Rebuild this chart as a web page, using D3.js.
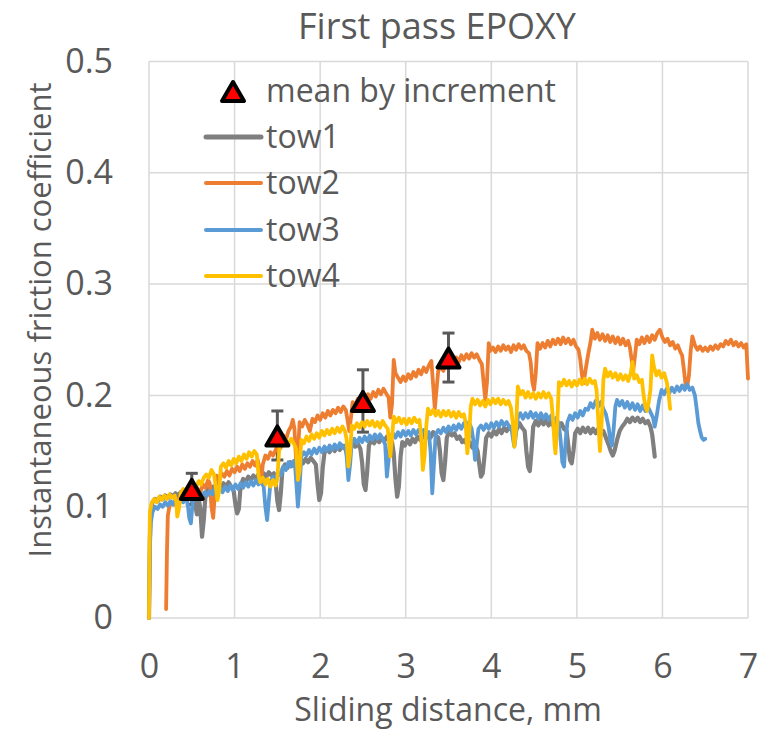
<!DOCTYPE html>
<html>
<head>
<meta charset="utf-8">
<script src="https://cdn.jsdelivr.net/npm/d3@7"></script>
<style>
  html, body { margin: 0; padding: 0; background: #fff; }
  svg { display: block; font-family: "Open Sans", sans-serif; }
</style>
</head>
<body>
<svg id="chart" width="763" height="731"></svg>
<script>
// ---- data ----
const title = "First pass EPOXY";
const xLabel = "Sliding distance, mm";
const yLabel = "Instantaneous friction coefficient";
const xTicks = [0, 1, 2, 3, 4, 5, 6, 7];
const yTicks = [0, 0.1, 0.2, 0.3, 0.4, 0.5];
const seriesNames = ["tow1", "tow2", "tow3", "tow4"];
const seriesColors = ["#7F7F7F", "#ED7D31", "#5B9BD5", "#FFC000"];

// mean friction coefficient per 1 mm increment, with spread
const meanX = [0.5, 1.5, 2.5, 3.5];
const meanY = [0.116, 0.164, 0.195, 0.234];
const meanErr = [0.014, 0.022, 0.028, 0.022];

// sliding distance (mm), friction coefficient
const tow1 = [[0.00,0.000],[0.01,0.07],[0.02,0.095],[0.04,0.104],[0.07,0.107],[0.10,0.105],[0.13,0.109],[0.16,0.107],[0.19,0.110],[0.22,0.108],[0.25,0.111],[0.28,0.109],[0.31,0.112],[0.34,0.110],[0.37,0.113],[0.40,0.111],[0.43,0.114],[0.46,0.112],[0.49,0.110],[0.52,0.113],[0.54,0.102],[0.56,0.093],[0.58,0.108],[0.60,0.098],[0.62,0.073],[0.64,0.088],[0.66,0.110],[0.69,0.116],[0.72,0.113],[0.75,0.118],[0.78,0.115],[0.81,0.120],[0.84,0.117],[0.87,0.121],[0.90,0.118],[0.93,0.122],[0.96,0.118],[0.99,0.114],[1.01,0.102],[1.03,0.094],[1.05,0.098],[1.07,0.118],[1.10,0.125],[1.13,0.122],[1.16,0.127],[1.19,0.124],[1.22,0.128],[1.25,0.125],[1.28,0.129],[1.31,0.126],[1.34,0.130],[1.37,0.127],[1.40,0.131],[1.43,0.128],[1.46,0.130],[1.48,0.122],[1.50,0.105],[1.52,0.097],[1.54,0.112],[1.56,0.134],[1.59,0.138],[1.62,0.135],[1.65,0.140],[1.68,0.137],[1.71,0.141],[1.74,0.138],[1.77,0.142],[1.80,0.139],[1.83,0.143],[1.86,0.140],[1.89,0.144],[1.92,0.141],[1.95,0.138],[1.97,0.120],[1.99,0.106],[2.01,0.112],[2.03,0.135],[2.05,0.148],[2.08,0.152],[2.11,0.149],[2.14,0.153],[2.17,0.150],[2.20,0.154],[2.23,0.151],[2.26,0.155],[2.29,0.152],[2.32,0.156],[2.35,0.153],[2.38,0.157],[2.41,0.154],[2.44,0.157],[2.47,0.152],[2.49,0.140],[2.51,0.120],[2.53,0.115],[2.55,0.132],[2.57,0.155],[2.60,0.160],[2.63,0.157],[2.66,0.161],[2.69,0.158],[2.72,0.162],[2.75,0.159],[2.78,0.163],[2.81,0.160],[2.84,0.158],[2.86,0.148],[2.88,0.125],[2.90,0.109],[2.92,0.118],[2.94,0.145],[2.96,0.158],[2.99,0.155],[3.02,0.160],[3.05,0.156],[3.08,0.161],[3.11,0.158],[3.14,0.163],[3.17,0.160],[3.20,0.165],[3.23,0.161],[3.26,0.166],[3.29,0.162],[3.32,0.167],[3.35,0.164],[3.38,0.162],[3.40,0.150],[3.42,0.130],[3.44,0.124],[3.46,0.140],[3.48,0.162],[3.51,0.168],[3.54,0.164],[3.57,0.166],[3.60,0.161],[3.63,0.163],[3.66,0.158],[3.69,0.160],[3.72,0.155],[3.75,0.158],[3.78,0.153],[3.81,0.156],[3.84,0.150],[3.86,0.138],[3.88,0.127],[3.90,0.130],[3.92,0.145],[3.94,0.162],[3.97,0.166],[4.00,0.163],[4.03,0.168],[4.06,0.165],[4.09,0.170],[4.12,0.166],[4.15,0.171],[4.18,0.168],[4.21,0.172],[4.24,0.169],[4.27,0.174],[4.30,0.170],[4.33,0.175],[4.36,0.171],[4.39,0.168],[4.41,0.150],[4.43,0.136],[4.45,0.132],[4.47,0.150],[4.49,0.172],[4.52,0.177],[4.55,0.173],[4.58,0.178],[4.61,0.174],[4.64,0.178],[4.67,0.173],[4.70,0.177],[4.73,0.172],[4.76,0.176],[4.79,0.171],[4.82,0.175],[4.85,0.170],[4.88,0.168],[4.90,0.155],[4.92,0.142],[4.94,0.139],[4.96,0.150],[4.98,0.166],[5.01,0.170],[5.04,0.166],[5.07,0.171],[5.10,0.167],[5.13,0.171],[5.16,0.166],[5.19,0.170],[5.22,0.166],[5.25,0.170],[5.28,0.165],[5.31,0.168],[5.34,0.162],[5.37,0.156],[5.40,0.149],[5.42,0.146],[5.44,0.150],[5.47,0.160],[5.50,0.168],[5.53,0.172],[5.56,0.175],[5.59,0.179],[5.62,0.176],[5.65,0.180],[5.68,0.177],[5.71,0.180],[5.74,0.176],[5.77,0.179],[5.80,0.175],[5.83,0.177],[5.86,0.172],[5.88,0.165],[5.90,0.152],[5.91,0.145]];

const tow2 = [[0.20,0.008],[0.21,0.06],[0.22,0.092],[0.24,0.101],[0.27,0.104],[0.30,0.102],[0.33,0.107],[0.36,0.104],[0.39,0.108],[0.42,0.106],[0.45,0.110],[0.48,0.108],[0.51,0.113],[0.54,0.110],[0.57,0.116],[0.60,0.113],[0.63,0.120],[0.66,0.117],[0.69,0.124],[0.71,0.121],[0.73,0.100],[0.75,0.090],[0.77,0.112],[0.79,0.128],[0.82,0.124],[0.85,0.130],[0.88,0.127],[0.91,0.132],[0.94,0.128],[0.97,0.134],[1.00,0.131],[1.03,0.136],[1.06,0.132],[1.09,0.138],[1.12,0.134],[1.15,0.139],[1.18,0.136],[1.21,0.141],[1.24,0.137],[1.27,0.142],[1.29,0.135],[1.31,0.122],[1.33,0.138],[1.36,0.146],[1.39,0.143],[1.42,0.149],[1.45,0.146],[1.48,0.151],[1.51,0.156],[1.54,0.153],[1.57,0.164],[1.60,0.160],[1.63,0.168],[1.66,0.172],[1.68,0.178],[1.70,0.170],[1.72,0.140],[1.74,0.146],[1.76,0.176],[1.79,0.172],[1.82,0.178],[1.85,0.174],[1.88,0.168],[1.91,0.179],[1.94,0.176],[1.97,0.182],[2.00,0.178],[2.03,0.184],[2.06,0.180],[2.09,0.186],[2.12,0.182],[2.15,0.187],[2.18,0.184],[2.21,0.189],[2.24,0.185],[2.27,0.190],[2.30,0.187],[2.32,0.178],[2.34,0.168],[2.36,0.180],[2.38,0.194],[2.41,0.191],[2.44,0.197],[2.47,0.193],[2.50,0.199],[2.53,0.196],[2.56,0.201],[2.59,0.197],[2.62,0.203],[2.65,0.199],[2.68,0.205],[2.71,0.201],[2.74,0.206],[2.77,0.202],[2.80,0.198],[2.82,0.180],[2.84,0.192],[2.86,0.232],[2.88,0.220],[2.91,0.216],[2.94,0.212],[2.97,0.217],[3.00,0.213],[3.03,0.219],[3.06,0.215],[3.09,0.221],[3.12,0.217],[3.15,0.223],[3.18,0.219],[3.21,0.225],[3.24,0.221],[3.27,0.227],[3.30,0.231],[3.32,0.210],[3.34,0.188],[3.36,0.205],[3.38,0.222],[3.41,0.226],[3.44,0.222],[3.47,0.228],[3.50,0.225],[3.53,0.231],[3.56,0.228],[3.59,0.234],[3.62,0.230],[3.65,0.236],[3.68,0.232],[3.71,0.237],[3.74,0.233],[3.77,0.238],[3.80,0.234],[3.83,0.237],[3.86,0.232],[3.89,0.228],[3.91,0.212],[3.93,0.196],[3.95,0.212],[3.97,0.247],[3.99,0.240],[4.02,0.243],[4.05,0.239],[4.08,0.244],[4.11,0.240],[4.14,0.245],[4.17,0.241],[4.20,0.244],[4.23,0.239],[4.26,0.245],[4.29,0.241],[4.32,0.246],[4.35,0.242],[4.38,0.245],[4.41,0.240],[4.44,0.238],[4.46,0.230],[4.48,0.212],[4.50,0.205],[4.52,0.220],[4.54,0.247],[4.57,0.242],[4.60,0.247],[4.63,0.243],[4.66,0.249],[4.69,0.244],[4.72,0.250],[4.75,0.246],[4.78,0.251],[4.81,0.246],[4.84,0.252],[4.87,0.247],[4.90,0.251],[4.93,0.246],[4.96,0.250],[4.99,0.244],[5.02,0.241],[5.04,0.232],[5.06,0.218],[5.08,0.211],[5.10,0.222],[5.13,0.236],[5.16,0.248],[5.18,0.259],[5.21,0.251],[5.24,0.256],[5.27,0.250],[5.30,0.255],[5.33,0.249],[5.36,0.254],[5.39,0.248],[5.42,0.253],[5.45,0.247],[5.48,0.252],[5.51,0.246],[5.54,0.251],[5.57,0.245],[5.60,0.249],[5.62,0.243],[5.64,0.232],[5.66,0.223],[5.68,0.236],[5.70,0.250],[5.73,0.246],[5.76,0.252],[5.79,0.247],[5.82,0.253],[5.85,0.248],[5.88,0.254],[5.91,0.250],[5.94,0.256],[5.97,0.259],[6.00,0.252],[6.03,0.248],[6.06,0.251],[6.09,0.245],[6.12,0.248],[6.15,0.242],[6.18,0.245],[6.21,0.239],[6.23,0.236],[6.25,0.224],[6.27,0.210],[6.29,0.208],[6.31,0.218],[6.33,0.240],[6.35,0.253],[6.38,0.245],[6.41,0.241],[6.44,0.244],[6.47,0.240],[6.50,0.243],[6.53,0.240],[6.56,0.244],[6.59,0.241],[6.62,0.245],[6.65,0.242],[6.68,0.246],[6.71,0.244],[6.74,0.249],[6.77,0.246],[6.80,0.250],[6.83,0.245],[6.86,0.248],[6.89,0.244],[6.92,0.247],[6.95,0.243],[6.98,0.246],[7.00,0.215]];

const tow3 = [[0.00,0.000],[0.01,0.06],[0.02,0.085],[0.04,0.095],[0.07,0.100],[0.10,0.098],[0.13,0.102],[0.16,0.100],[0.19,0.104],[0.22,0.101],[0.25,0.105],[0.28,0.102],[0.31,0.106],[0.34,0.103],[0.37,0.107],[0.40,0.104],[0.43,0.108],[0.45,0.104],[0.47,0.090],[0.49,0.085],[0.51,0.104],[0.53,0.111],[0.56,0.108],[0.59,0.112],[0.62,0.109],[0.65,0.113],[0.68,0.110],[0.71,0.114],[0.74,0.111],[0.77,0.116],[0.80,0.112],[0.83,0.117],[0.86,0.113],[0.89,0.118],[0.92,0.114],[0.95,0.119],[0.98,0.115],[1.01,0.120],[1.04,0.116],[1.07,0.121],[1.10,0.117],[1.13,0.122],[1.16,0.118],[1.19,0.123],[1.22,0.119],[1.25,0.124],[1.28,0.120],[1.31,0.123],[1.34,0.118],[1.36,0.100],[1.38,0.088],[1.40,0.105],[1.42,0.122],[1.45,0.127],[1.48,0.124],[1.51,0.131],[1.54,0.128],[1.57,0.136],[1.60,0.133],[1.63,0.140],[1.66,0.136],[1.69,0.141],[1.71,0.134],[1.73,0.112],[1.74,0.100],[1.76,0.118],[1.78,0.145],[1.81,0.149],[1.84,0.146],[1.87,0.151],[1.90,0.147],[1.93,0.152],[1.96,0.148],[1.99,0.153],[2.02,0.149],[2.05,0.154],[2.08,0.150],[2.11,0.155],[2.14,0.151],[2.17,0.156],[2.20,0.152],[2.23,0.157],[2.26,0.153],[2.29,0.155],[2.31,0.145],[2.33,0.124],[2.35,0.138],[2.37,0.158],[2.40,0.161],[2.43,0.157],[2.46,0.162],[2.49,0.158],[2.52,0.163],[2.55,0.159],[2.58,0.164],[2.61,0.160],[2.64,0.165],[2.67,0.161],[2.70,0.165],[2.73,0.161],[2.76,0.156],[2.78,0.127],[2.80,0.142],[2.82,0.163],[2.85,0.166],[2.88,0.162],[2.91,0.167],[2.94,0.163],[2.97,0.168],[3.00,0.164],[3.03,0.168],[3.06,0.164],[3.09,0.169],[3.12,0.165],[3.15,0.169],[3.18,0.165],[3.21,0.169],[3.24,0.165],[3.27,0.167],[3.29,0.150],[3.31,0.112],[3.33,0.138],[3.35,0.165],[3.38,0.169],[3.41,0.166],[3.44,0.171],[3.47,0.167],[3.50,0.172],[3.53,0.168],[3.56,0.173],[3.59,0.169],[3.62,0.174],[3.65,0.170],[3.68,0.175],[3.71,0.171],[3.74,0.176],[3.77,0.170],[3.79,0.160],[3.81,0.142],[3.83,0.156],[3.85,0.170],[3.88,0.173],[3.91,0.169],[3.94,0.174],[3.97,0.170],[4.00,0.175],[4.03,0.171],[4.06,0.176],[4.09,0.172],[4.12,0.177],[4.15,0.173],[4.18,0.176],[4.21,0.172],[4.24,0.168],[4.26,0.158],[4.27,0.154],[4.29,0.166],[4.31,0.180],[4.34,0.184],[4.37,0.179],[4.40,0.184],[4.43,0.180],[4.46,0.185],[4.49,0.180],[4.52,0.184],[4.55,0.179],[4.58,0.184],[4.61,0.179],[4.64,0.183],[4.67,0.178],[4.70,0.182],[4.73,0.177],[4.76,0.180],[4.79,0.174],[4.81,0.160],[4.83,0.140],[4.85,0.136],[4.87,0.160],[4.89,0.176],[4.92,0.182],[4.95,0.178],[4.98,0.184],[5.01,0.180],[5.04,0.186],[5.07,0.182],[5.10,0.188],[5.13,0.187],[5.16,0.193],[5.19,0.189],[5.22,0.195],[5.25,0.190],[5.28,0.194],[5.31,0.188],[5.34,0.183],[5.37,0.172],[5.39,0.160],[5.41,0.155],[5.43,0.170],[5.45,0.190],[5.47,0.196],[5.50,0.191],[5.53,0.195],[5.56,0.189],[5.59,0.194],[5.62,0.188],[5.65,0.193],[5.68,0.187],[5.71,0.192],[5.74,0.186],[5.77,0.191],[5.80,0.186],[5.83,0.190],[5.86,0.185],[5.89,0.180],[5.91,0.172],[5.93,0.180],[5.96,0.195],[5.99,0.205],[6.02,0.201],[6.05,0.206],[6.08,0.202],[6.11,0.207],[6.14,0.203],[6.17,0.208],[6.20,0.204],[6.23,0.209],[6.26,0.205],[6.29,0.210],[6.32,0.205],[6.35,0.207],[6.38,0.200],[6.40,0.188],[6.42,0.175],[6.44,0.168],[6.46,0.162],[6.48,0.160],[6.50,0.161]];

const tow4 = [[0.000,0.000],[0.005,0.05],[0.010,0.095],[0.03,0.103],[0.06,0.107],[0.09,0.104],[0.12,0.109],[0.15,0.106],[0.18,0.110],[0.21,0.107],[0.24,0.111],[0.27,0.108],[0.30,0.110],[0.32,0.104],[0.33,0.091],[0.35,0.098],[0.37,0.112],[0.40,0.116],[0.43,0.113],[0.46,0.118],[0.49,0.115],[0.52,0.120],[0.55,0.117],[0.58,0.123],[0.61,0.120],[0.64,0.126],[0.67,0.129],[0.70,0.126],[0.73,0.133],[0.76,0.129],[0.78,0.118],[0.80,0.106],[0.82,0.114],[0.84,0.136],[0.87,0.139],[0.90,0.135],[0.93,0.141],[0.96,0.137],[0.99,0.143],[1.02,0.139],[1.05,0.145],[1.08,0.141],[1.11,0.147],[1.14,0.143],[1.17,0.149],[1.20,0.145],[1.23,0.150],[1.26,0.147],[1.28,0.128],[1.30,0.122],[1.33,0.126],[1.36,0.120],[1.39,0.125],[1.42,0.118],[1.45,0.124],[1.48,0.119],[1.50,0.125],[1.52,0.150],[1.54,0.162],[1.57,0.155],[1.60,0.160],[1.63,0.156],[1.66,0.161],[1.69,0.157],[1.72,0.152],[1.74,0.124],[1.76,0.132],[1.78,0.160],[1.81,0.157],[1.84,0.163],[1.87,0.159],[1.90,0.165],[1.93,0.161],[1.96,0.166],[1.99,0.162],[2.02,0.168],[2.05,0.164],[2.08,0.169],[2.11,0.165],[2.14,0.170],[2.17,0.166],[2.20,0.171],[2.23,0.167],[2.26,0.172],[2.29,0.168],[2.31,0.160],[2.33,0.136],[2.35,0.148],[2.37,0.173],[2.40,0.170],[2.43,0.175],[2.46,0.171],[2.49,0.176],[2.52,0.172],[2.55,0.177],[2.58,0.173],[2.61,0.177],[2.64,0.172],[2.67,0.176],[2.70,0.171],[2.73,0.177],[2.76,0.173],[2.79,0.170],[2.81,0.155],[2.82,0.145],[2.84,0.162],[2.86,0.181],[2.89,0.176],[2.92,0.180],[2.95,0.175],[2.98,0.179],[3.01,0.174],[3.04,0.179],[3.07,0.175],[3.10,0.180],[3.13,0.176],[3.16,0.178],[3.18,0.165],[3.20,0.133],[3.22,0.145],[3.24,0.172],[3.26,0.188],[3.29,0.183],[3.32,0.187],[3.35,0.182],[3.38,0.186],[3.41,0.181],[3.44,0.186],[3.47,0.182],[3.50,0.186],[3.53,0.181],[3.56,0.185],[3.59,0.180],[3.62,0.185],[3.65,0.181],[3.68,0.183],[3.70,0.176],[3.72,0.148],[3.74,0.162],[3.76,0.190],[3.78,0.197],[3.81,0.192],[3.84,0.196],[3.87,0.191],[3.90,0.195],[3.93,0.190],[3.96,0.196],[3.99,0.192],[4.02,0.197],[4.05,0.193],[4.08,0.197],[4.11,0.192],[4.14,0.196],[4.17,0.192],[4.20,0.195],[4.23,0.189],[4.25,0.176],[4.27,0.154],[4.29,0.172],[4.31,0.208],[4.34,0.201],[4.37,0.204],[4.40,0.198],[4.43,0.203],[4.46,0.198],[4.49,0.202],[4.52,0.197],[4.55,0.202],[4.58,0.198],[4.61,0.203],[4.64,0.198],[4.67,0.202],[4.70,0.197],[4.72,0.180],[4.74,0.156],[4.75,0.148],[4.77,0.172],[4.79,0.212],[4.82,0.209],[4.85,0.214],[4.88,0.209],[4.91,0.213],[4.94,0.208],[4.97,0.213],[5.00,0.209],[5.03,0.214],[5.06,0.210],[5.09,0.215],[5.12,0.210],[5.15,0.215],[5.18,0.211],[5.21,0.213],[5.23,0.205],[5.25,0.178],[5.27,0.150],[5.29,0.176],[5.31,0.214],[5.33,0.224],[5.36,0.217],[5.39,0.221],[5.42,0.216],[5.45,0.220],[5.48,0.214],[5.51,0.219],[5.54,0.214],[5.57,0.218],[5.60,0.213],[5.63,0.220],[5.65,0.230],[5.67,0.215],[5.70,0.218],[5.73,0.212],[5.76,0.214],[5.78,0.200],[5.80,0.190],[5.82,0.186],[5.84,0.194],[5.86,0.205],[5.88,0.236],[5.90,0.226],[5.93,0.218],[5.96,0.222],[5.99,0.216],[6.02,0.220],[6.05,0.212],[6.07,0.203],[6.09,0.188]];

const towData = [tow1, tow2, tow3, tow4];

// ---- layout ----
const svg = d3.select("#chart");
const plot = { left: 149, right: 748, top: 61.5, bottom: 618 };
const x = d3.scaleLinear().domain([0, 7]).range([plot.left, plot.right]);
const y = d3.scaleLinear().domain([0, 0.5]).range([plot.bottom, plot.top]);
const textColor = "#595959";
const gridColor = "#D9D9D9";

// gridlines
svg.append("g").selectAll("line").data(yTicks).join("line")
  .attr("x1", plot.left).attr("x2", plot.right)
  .attr("y1", d => y(d)).attr("y2", d => y(d))
  .attr("stroke", gridColor).attr("stroke-width", 1.5);
svg.append("g").selectAll("line").data(xTicks).join("line")
  .attr("y1", plot.top).attr("y2", plot.bottom)
  .attr("x1", d => x(d)).attr("x2", d => x(d))
  .attr("stroke", gridColor).attr("stroke-width", 1.5);

// axes (labels only)
const yAxis = svg.append("g")
  .attr("transform", `translate(${plot.left},0)`)
  .call(d3.axisLeft(y).tickValues(yTicks).tickSize(0).tickPadding(36).tickFormat(d3.format("")));
const xAxis = svg.append("g")
  .attr("transform", `translate(0,${plot.bottom})`)
  .call(d3.axisBottom(x).tickValues(xTicks).tickSize(0).tickPadding(36).tickFormat(d3.format("")));
[yAxis, xAxis].forEach(g => {
  g.select(".domain").remove();
  g.selectAll("text").attr("fill", textColor).attr("font-size", 34)
    .attr("font-family", "'Open Sans', sans-serif");
});

// title and axis titles
svg.append("text").attr("x", 437).attr("y", 38.5).attr("text-anchor", "middle")
  .attr("fill", textColor).attr("font-size", 36).text(title);
svg.append("text").attr("x", 448).attr("y", 721).attr("text-anchor", "middle")
  .attr("fill", textColor).attr("font-size", 32).text(xLabel);
svg.append("text").attr("transform", "translate(51,320) rotate(-90)").attr("text-anchor", "middle")
  .attr("fill", textColor).attr("font-size", 31).text(yLabel);

// error bars for the increment means
const errG = svg.append("g").attr("stroke", "#595959").attr("stroke-width", 3);
meanX.forEach((mx, i) => {
  const cx = x(mx), lo = y(meanY[i] - meanErr[i]), hi = y(meanY[i] + meanErr[i]);
  errG.append("line").attr("x1", cx).attr("x2", cx).attr("y1", lo).attr("y2", hi);
  errG.append("line").attr("x1", cx - 6).attr("x2", cx + 6).attr("y1", lo).attr("y2", lo);
  errG.append("line").attr("x1", cx - 6).attr("x2", cx + 6).attr("y1", hi).attr("y2", hi);
});

// friction traces
const line = d3.line().x(d => x(d[0])).y(d => y(d[1]));
svg.append("g").selectAll("path").data(towData).join("path")
  .attr("d", line)
  .attr("fill", "none")
  .attr("stroke", (d, i) => seriesColors[i])
  .attr("stroke-width", (d, i) => i === 0 ? 4.2 : 3.8)
  .attr("stroke-linejoin", "round")
  .attr("stroke-linecap", "round");

// triangle markers
const tri = "M0,-10 L11,9 L-11,9 Z";
svg.append("g").selectAll("path").data(meanX).join("path")
  .attr("transform", (d, i) => `translate(${x(d)},${y(meanY[i]) + 1})`)
  .attr("d", tri)
  .attr("fill", "#FF0000").attr("stroke", "#000").attr("stroke-width", 4)
  .attr("stroke-linejoin", "round");

// legend
const leg = svg.append("g").attr("font-size", 32).attr("fill", textColor);
leg.append("path").attr("d", tri).attr("transform", "translate(233,92)")
  .attr("fill", "#FF0000").attr("stroke", "#000").attr("stroke-width", 4).attr("stroke-linejoin", "round");
leg.append("text").attr("x", 266).attr("y", 102).text("mean by increment");
const rowY = [137, 183, 230, 276];
seriesNames.forEach((name, i) => {
  leg.append("line").attr("x1", 206).attr("x2", 261).attr("y1", rowY[i]).attr("y2", rowY[i])
    .attr("stroke", seriesColors[i]).attr("stroke-width", i === 0 ? 5 : 4).attr("stroke-linecap", "round");
  leg.append("text").attr("x", 266).attr("y", rowY[i] + 11).text(name);
});
</script>
</body>
</html>
